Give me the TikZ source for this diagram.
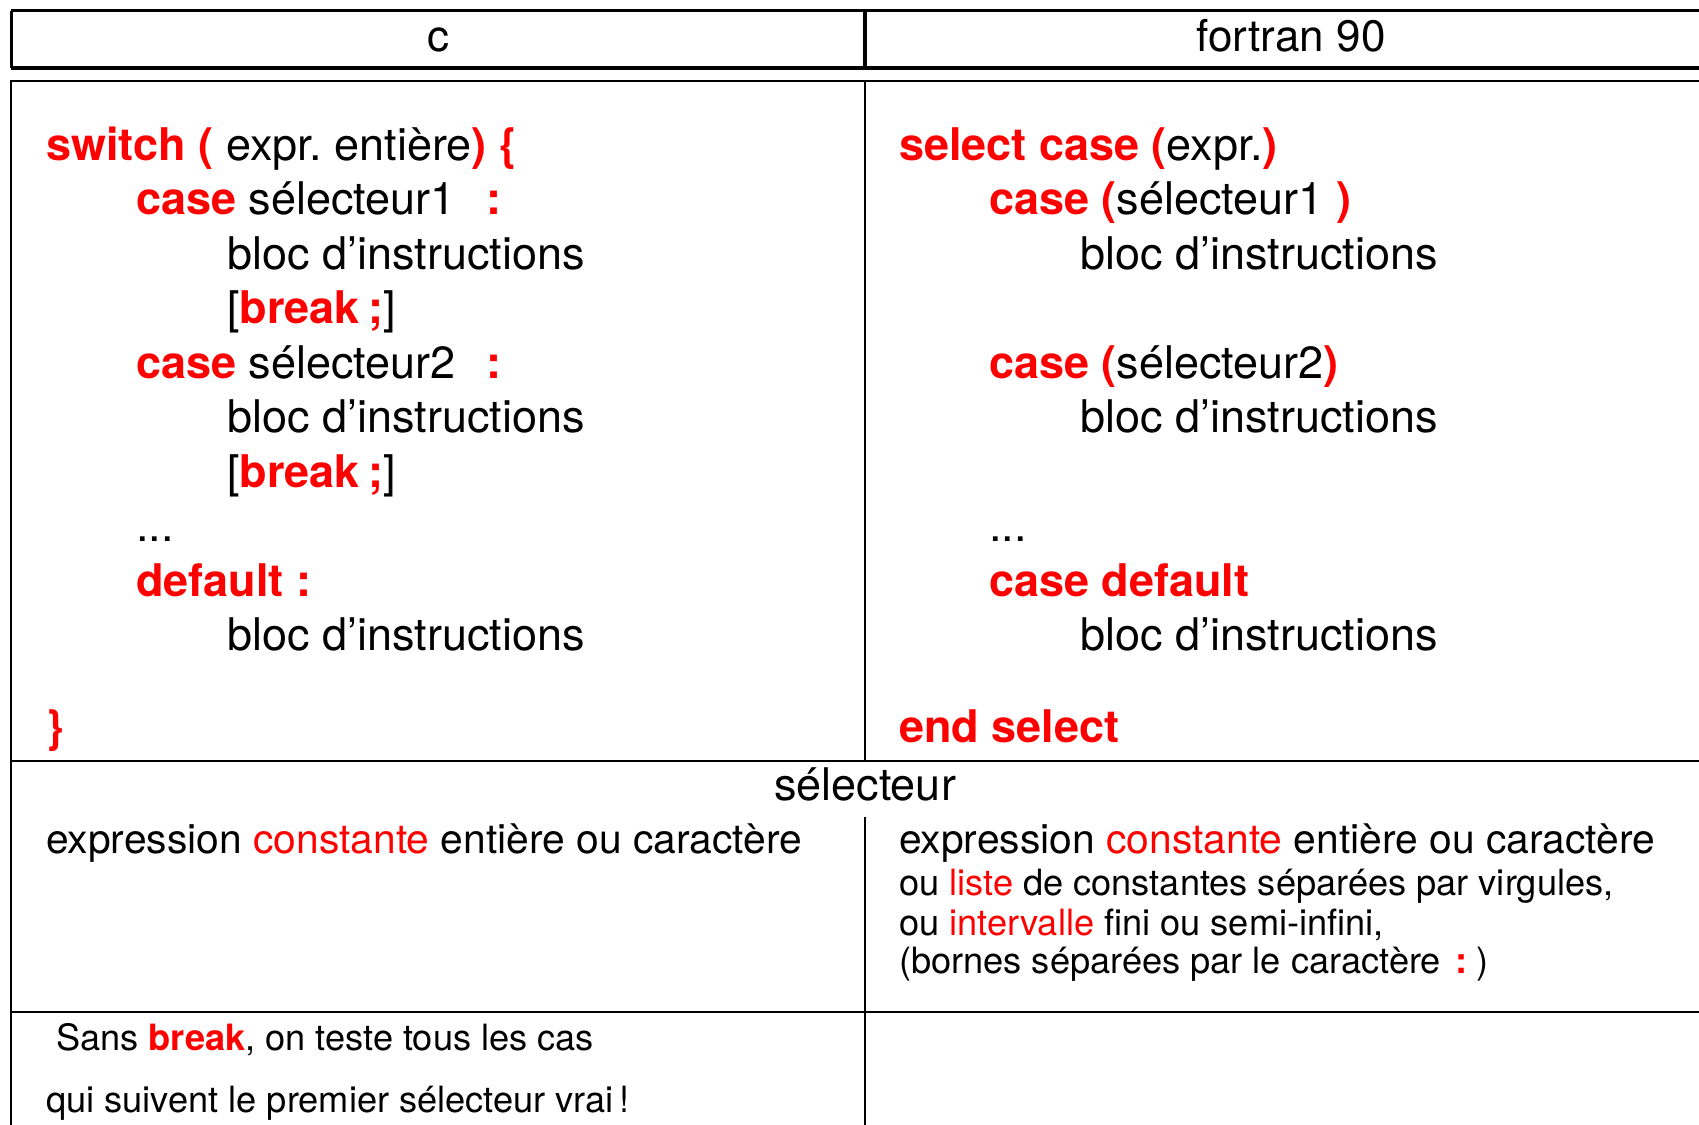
\documentclass[tikz,border=0pt]{standalone}
\usepackage{fontspec}
\setmainfont{TeX Gyre Heros}
\frenchspacing
\definecolor{kwred}{RGB}{255,0,0}
\newcommand{\kwd}[1]{{\bfseries\color{kwred}#1}}
\newcommand{\rdt}[1]{{\color{kwred}#1}}
\begin{document}
\begin{tikzpicture}[x=1pt,y=-1pt,
  hdline/.style={line width=3pt},
  bdline/.style={line width=2pt},
  rowtxt/.style={anchor=base west, inner sep=0pt, font=\fontsize{45}{54}\selectfont\frenchspacing},
  hdtxt/.style={anchor=base, inner sep=0pt, font=\fontsize{44}{52}\selectfont},
  midtxt/.style={anchor=base west, inner sep=0pt, font=\fontsize{40.8}{48}\selectfont},
  smalltxt/.style={anchor=base west, inner sep=0pt, font=\fontsize{36.2}{40}\selectfont}]
\useasboundingbox (0,0) rectangle (1699,1124);
\clip (0,0) rectangle (1699,1124);
\fill[white] (0,0) rectangle (1699,1124);
% header
\draw[hdline] (11,11) -- (1730,11);
\draw[hdline] (11,68) -- (1730,68);
\draw[hdline] (11,11) -- (11,68);
\draw[line width=3.5pt] (865,11) -- (865,68);
% body
\draw[bdline] (10,81) -- (1730,81);
\draw[bdline] (11,81) -- (11,1140);
\draw[bdline] (865,81) -- (865,761);
\draw[bdline] (10,761) -- (1730,761);
\draw[bdline] (865,817) -- (865,1140);
\draw[bdline] (10,1012) -- (1730,1012);
% header text
\node[hdtxt] (hc) at (438,52) {c};
\node[hdtxt] (hf) at (1291,52) {fortran 90};
% C column
\node[rowtxt] (c0) at (46,160) {\kwd{switch (} expr. entière\kwd{) \{}};
\node[rowtxt] (c1) at (136,214.5) {\kwd{case} sélecteur1\hspace{31pt}\kwd{:}};
\node[rowtxt] (c2) at (227,269) {bloc d’instructions};
\node[rowtxt] (c3) at (227,323.5) {[\kwd{break\hspace{9pt};}]};
\node[rowtxt] (c4) at (136,378) {\kwd{case} sélecteur2\hspace{31pt}\kwd{:}};
\node[rowtxt] (c5) at (227,432.5) {bloc d’instructions};
\node[rowtxt] (c6) at (227,487) {[\kwd{break\hspace{9pt};}]};
\node[rowtxt] (c7) at (136,541.5) {...};
\node[rowtxt] (c8) at (136,596) {\kwd{default :}};
\node[rowtxt] (c9) at (227,650.5) {bloc d’instructions};
\node[rowtxt] (cend) at (46,742) {\kwd{\}}};
% Fortran column
\node[rowtxt] (f0) at (899,160) {\kwd{select case (}expr.\kwd{)}};
\node[rowtxt] (f1) at (989,214.5) {\kwd{case (}sélecteur1 \kwd{)}};
\node[rowtxt] (f2) at (1080,269) {bloc d’instructions};
\node[rowtxt] (f4) at (989,378) {\kwd{case (}sélecteur2\kwd{)}};
\node[rowtxt] (f5) at (1080,432.5) {bloc d’instructions};
\node[rowtxt] (f7) at (989,541.5) {...};
\node[rowtxt] (f8) at (989,596) {\kwd{case default}};
\node[rowtxt] (f9) at (1080,650.5) {bloc d’instructions};
\node[rowtxt] (fend) at (899,742) {\kwd{end select}};
% selecteur section
\node[hdtxt, font=\fontsize{45}{54}\selectfont] (sel) at (865,800) {sélecteur};
\node[midtxt] (sl) at (46,853) {expression \rdt{constante} entière ou caractère};
\node[midtxt] (sr1) at (899,853) {expression \rdt{constante} entière ou caractère};
\node[smalltxt] (sr2) at (899,895) {ou \rdt{liste} de constantes séparées par virgules,};
\node[smalltxt] (sr3) at (899,935) {ou \rdt{intervalle} fini ou semi-infini,};
\node[smalltxt] (sr4) at (899,973) {(bornes séparées par le caractère\hspace{15pt}\kwd{:}\hspace{8pt})};
% bottom notes
\node[smalltxt] (b1) at (56,1050) {Sans \kwd{break}, on teste tous les cas};
\node[smalltxt] (b2) at (46,1112) {qui suivent le premier sélecteur vrai\,!};
\end{tikzpicture}
\end{document}
